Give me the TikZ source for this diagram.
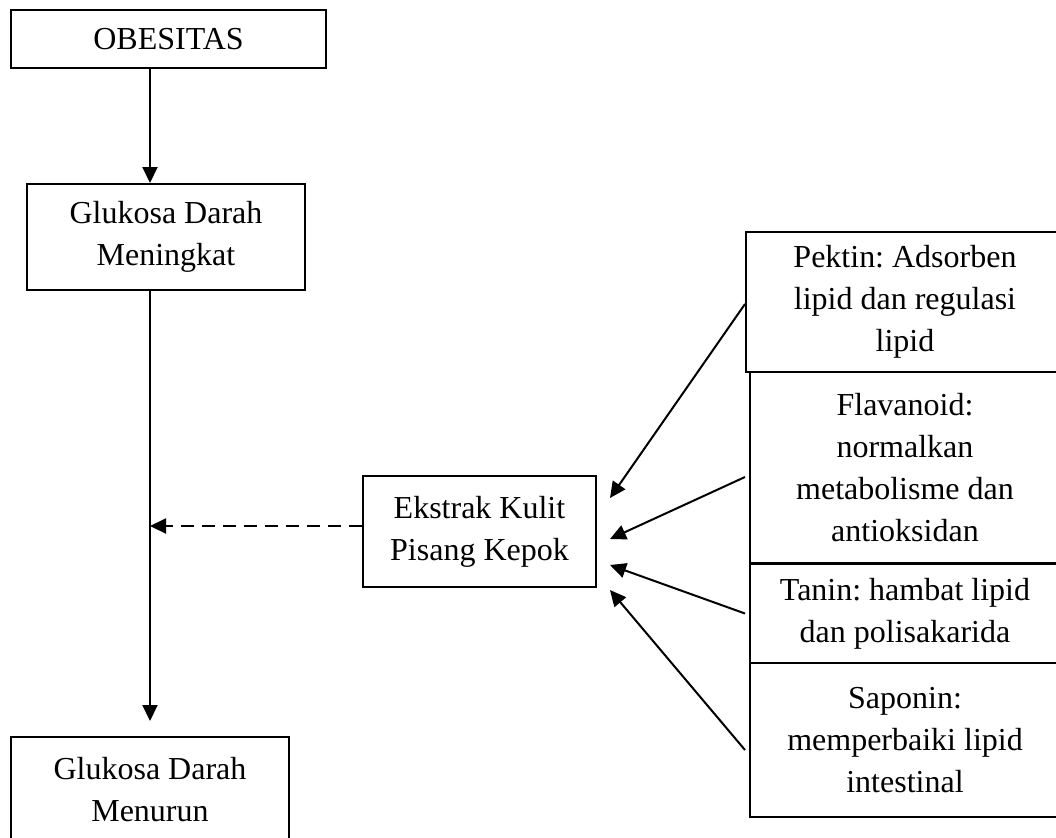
\documentclass[tikz,border=0pt]{standalone}
\usepackage{fontspec}
\setmainfont{Liberation Serif}
\usetikzlibrary{arrows.meta,calc}
\frenchspacing
\tikzset{
  box/.style={draw, line width=1pt, inner sep=0pt, align=center,
    font=\fontsize{16}{21}\selectfont\frenchspacing},
  arr/.style={line width=1pt, -{Triangle[length=8pt,width=7.5pt]}},
  dashline/.style={dash pattern=on 6.5pt off 4pt}
}
\begin{document}
\begin{tikzpicture}[x=0.5pt,y=-0.5pt]
\useasboundingbox (0,0) rectangle (1056,837);
\clip (0,0) rectangle (1056,837);
\coordinate (spine) at (150,0);
\node[box, minimum width=157.5pt, minimum height=29pt] (obes) at (168.5,39) {OBESITAS};
\node[box, minimum width=139pt, minimum height=53pt] (men) at (166,237) {Glukosa Darah\\Meningkat};
\node[box, minimum width=139pt, minimum height=53pt] (tur) at (150,790) {Glukosa Darah\\Menurun};
\node[box, minimum width=116.5pt, minimum height=55.5pt] (eks) at (479.5,531.5) {Ekstrak Kulit\\Pisang Kepok};
\node[box, minimum width=159pt, minimum height=70pt] (pek) at (905,302) {Pektin: Adsorben\\lipid dan regulasi\\lipid};
\node[box, minimum width=155pt, minimum height=95.5pt] (flav) at (905,467.5) {Flavanoid:\\normalkan\\metabolisme dan\\antioksidan};
\node[box, minimum width=155pt, minimum height=49.5pt] (tan) at (905,613.5) {Tanin: hambat lipid\\dan polisakarida};
\node[box, minimum width=155pt, minimum height=77pt] (sap) at (905,740) {Saponin:\\memperbaiki lipid\\intestinal};
\draw[arr] (obes.south -| spine) -- (men.north -| spine);
\draw[arr] (men.south -| spine) -- ($(tur.north)+(0,-15)$);
\draw[arr, dashline] ($(eks.west)+(0,-5.5)$) coordinate (d0) -- (d0 -| spine);
\draw[arr] ($(pek.west)+(0,2)$) -- ($(eks.east)+(13,-33.5)$);
\draw[arr] ($(flav.west)+(-4,9.5)$) -- ($(eks.east)+(13,7.5)$);
\draw[arr] ($(tan.west)+(-4,0)$) -- ($(eks.east)+(13,33.5)$);
\draw[arr] ($(sap.west)+(-4,10)$) -- ($(eks.east)+(13,58.5)$);
\end{tikzpicture}
\end{document}
